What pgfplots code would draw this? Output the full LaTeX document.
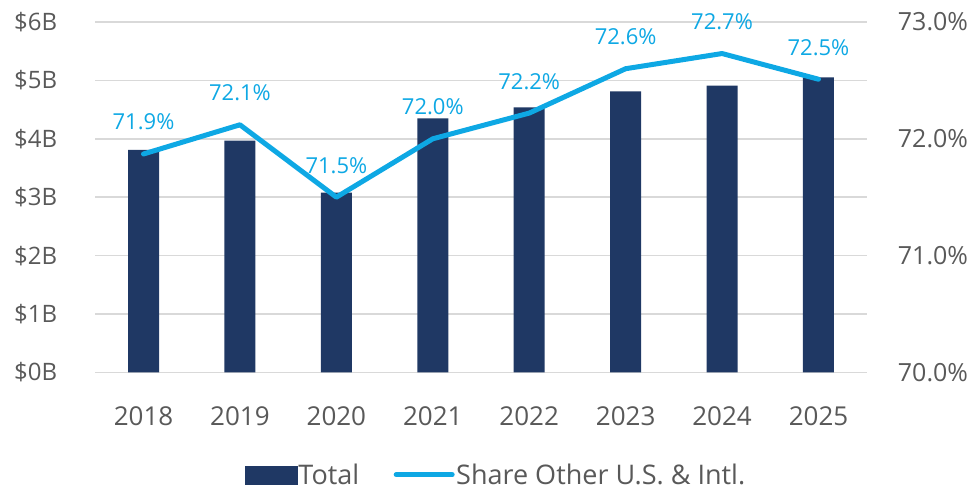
\documentclass[border=0pt]{standalone}
\usepackage{pgfplots}
\pgfplotsset{compat=1.18}
\usepackage{fontspec}
\setmainfont{Open Sans}
\definecolor{navy}{HTML}{1F3864}
\definecolor{sky}{HTML}{0EA8E4}
\definecolor{tickgray}{HTML}{595959}
\definecolor{gridgray}{HTML}{D9D9D9}
\begin{document}
\begin{tikzpicture}
\path[use as bounding box] (-95.3pt,-119.6pt) rectangle (881.7pt,372.4pt);
\begin{axis}[
  at={(0pt,0pt)}, anchor=south west,
  scale only axis, width=771.4pt, height=350.4pt,
  xmin=-0.5, xmax=7.5, ymin=0, ymax=6,
  ybar, bar width=31pt,
  xtick={0,...,7},
  xticklabels={2018,2019,2020,2021,2022,2023,2024,2025},
  ytick={0,...,6},
  yticklabels={\$0B,\$1B,\$2B,\$3B,\$4B,\$5B,\$6B},
  axis line style={draw=none},
  major tick length=0pt,
  ymajorgrids, grid style={gridgray, line width=1.5pt},
  yticklabel style={font=\fontsize{24}{28}\selectfont, text=tickgray, anchor=east, inner sep=0pt, xshift=-38pt},
  xticklabel style={font=\fontsize{26}{31}\selectfont, text=tickgray, anchor=base, inner sep=0pt, yshift=-53.6pt},
]
\addplot[fill=navy, draw=none] coordinates {(0,3.81) (1,3.97) (2,3.08) (3,4.35) (4,4.54) (5,4.81) (6,4.91) (7,5.05)};
\end{axis}
\begin{axis}[
  at={(0pt,0pt)}, anchor=south west,
  scale only axis, width=771.4pt, height=350.4pt,
  xmin=-0.5, xmax=7.5, ymin=70, ymax=73,
  axis y line*=right, axis x line=none,
  axis line style={draw=none},
  major tick length=0pt,
  ytick={70,71,72,73},
  yticklabels={70.0\%,71.0\%,72.0\%,73.0\%},
  yticklabel style={font=\fontsize{25}{30}\selectfont, text=tickgray, anchor=west, inner sep=0pt, xshift=31pt},
  /pgf/number format/assume math mode=true,
  legend style={draw=none, fill=none, at={(0.519,-0.292)}, anchor=center, legend columns=2,
    font=\fontsize{27}{32}\selectfont, text=tickgray,
    /tikz/every even column/.style={column sep=33pt},
    nodes={inner sep=1.5pt}},
]
\addlegendimage{legend image code/.code={\fill[navy] (0pt,-9pt) rectangle (52pt,9pt);}}
\addlegendentry{Total}
\addplot[sky, line width=5pt, line join=round, line cap=round,
  legend image code/.code={\draw[sky, line width=5pt, line cap=round] (0pt,0pt) -- (56pt,0pt);},
  nodes near coords={\pgfmathprintnumber[fixed,fixed zerofill,precision=1]{\pgfplotspointmeta}\%},
  every node near coord/.style={font=\fontsize{22}{26}\selectfont, text=sky, anchor=base, inner sep=0pt, yshift=24pt}]
  coordinates {(0,71.87) (1,72.12) (2,71.5) (3,72.0) (4,72.22) (5,72.6) (6,72.73) (7,72.51)};
\addlegendentry{Share Other U.S. \& Intl.}
\end{axis}
\end{tikzpicture}
\end{document}
